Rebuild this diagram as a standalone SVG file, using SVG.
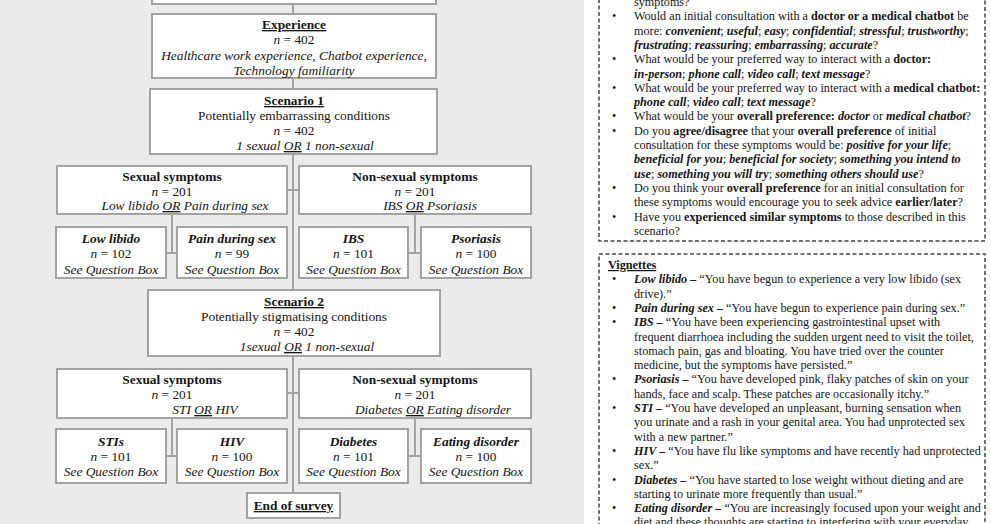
<svg xmlns="http://www.w3.org/2000/svg" width="991" height="524" viewBox="0 0 991 524">
<style>
.bx{fill:#fff;stroke:#a3a3a3;stroke-width:2}
.ln{stroke:#a3a3a3;stroke-width:2;fill:none}
.t{font-family:"Liberation Serif","Times New Roman",serif;font-size:13.4px;fill:#151515;text-anchor:middle}
.r{font-family:"Liberation Serif","Times New Roman",serif;font-size:12.2px;fill:#151515}
.b{font-weight:bold}
.i{font-style:italic}
.bi{font-weight:bold;font-style:italic}
.u{text-decoration:underline}
.dash{fill:none;stroke:#444;stroke-width:1.5;stroke-dasharray:4 2.5}
</style>
<rect x="0" y="0" width="991" height="524" fill="#fff"/>
<rect x="0" y="0" width="584" height="524" fill="#ebebeb"/>

<g id="connectors">
<line class="ln" x1="293" y1="4" x2="293" y2="493"/>
<line class="ln" x1="287" y1="190" x2="299" y2="190"/>
<line class="ln" x1="172" y1="215" x2="172" y2="253"/>
<line class="ln" x1="166" y1="253" x2="177" y2="253"/>
<line class="ln" x1="415" y1="215" x2="415" y2="253"/>
<line class="ln" x1="408" y1="253" x2="421" y2="253"/>
<line class="ln" x1="287" y1="393" x2="299" y2="393"/>
<line class="ln" x1="172" y1="418" x2="172" y2="456"/>
<line class="ln" x1="166" y1="456" x2="177" y2="456"/>
<line class="ln" x1="415" y1="418" x2="415" y2="456"/>
<line class="ln" x1="408" y1="456" x2="421" y2="456"/>
</g>

<g id="top-box"><rect class="bx" x="152" y="-30" width="284" height="34"/></g>

<g id="experience">
<rect class="bx" x="152" y="14" width="284" height="64"/>
<text class="t b u" x="294" y="29">Experience</text>
<text class="t" x="294" y="44"><tspan class="i">n</tspan> = 402</text>
<text class="t i" x="294" y="60">Healthcare work experience, Chatbot experience,</text>
<text class="t i" x="294" y="75">Technology familiarity</text>
</g>

<g id="scenario1">
<rect class="bx" x="150" y="89" width="287" height="65"/>
<text class="t b u" x="294" y="105">Scenario 1</text>
<text class="t" x="294" y="120">Potentially embarrassing conditions</text>
<text class="t" x="294" y="135"><tspan class="i">n</tspan> = 402</text>
<text class="t i" x="305" y="150">1 sexual <tspan class="u">OR</tspan> 1 non-sexual</text>
</g>

<g id="s1-sexual">
<rect class="bx" x="57" y="166" width="230" height="48"/>
<text class="t b" x="172" y="181">Sexual symptoms</text>
<text class="t" x="172" y="196"><tspan class="i">n</tspan> = 201</text>
<text class="t i" x="185" y="210">Low libido <tspan class="u">OR</tspan> Pain during sex</text>
</g>

<g id="s1-nonsexual">
<rect class="bx" x="299" y="166" width="232" height="48"/>
<text class="t b" x="415" y="181">Non-sexual symptoms</text>
<text class="t" x="415" y="196"><tspan class="i">n</tspan> = 201</text>
<text class="t i" x="430" y="210">IBS <tspan class="u">OR</tspan> Psoriasis</text>
</g>

<g id="low-libido">
<rect class="bx" x="56" y="227" width="110" height="51"/>
<text class="t bi" x="111" y="243">Low libido</text>
<text class="t" x="111" y="258"><tspan class="i">n</tspan> = 102</text>
<text class="t i" x="111" y="274">See Question Box</text>
</g>
<g id="pain-during-sex">
<rect class="bx" x="177" y="227" width="110" height="51"/>
<text class="t bi" x="232" y="243">Pain during sex</text>
<text class="t" x="232" y="258"><tspan class="i">n</tspan> = 99</text>
<text class="t i" x="232" y="274">See Question Box</text>
</g>
<g id="ibs">
<rect class="bx" x="299" y="227" width="109" height="51"/>
<text class="t bi" x="353.5" y="243">IBS</text>
<text class="t" x="353.5" y="258"><tspan class="i">n</tspan> = 101</text>
<text class="t i" x="353.5" y="274">See Question Box</text>
</g>
<g id="psoriasis">
<rect class="bx" x="421" y="227" width="110" height="51"/>
<text class="t bi" x="476" y="243">Psoriasis</text>
<text class="t" x="476" y="258"><tspan class="i">n</tspan> = 100</text>
<text class="t i" x="476" y="274">See Question Box</text>
</g>

<g id="scenario2">
<rect class="bx" x="148" y="290" width="292" height="66"/>
<text class="t b u" x="294" y="306">Scenario 2</text>
<text class="t" x="294" y="321">Potentially stigmatising conditions</text>
<text class="t" x="294" y="336"><tspan class="i">n</tspan> = 402</text>
<text class="t i" x="307" y="351">1sexual <tspan class="u">OR</tspan> 1 non-sexual</text>
</g>

<g id="s2-sexual">
<rect class="bx" x="57" y="369" width="230" height="49"/>
<text class="t b" x="172" y="384">Sexual symptoms</text>
<text class="t" x="172" y="399"><tspan class="i">n</tspan> = 201</text>
<text class="t i" x="205" y="414">STI <tspan class="u">OR</tspan> HIV</text>
</g>

<g id="s2-nonsexual">
<rect class="bx" x="299" y="369" width="232" height="49"/>
<text class="t b" x="415" y="384">Non-sexual symptoms</text>
<text class="t" x="415" y="399"><tspan class="i">n</tspan> = 201</text>
<text class="t i" x="433" y="414">Diabetes <tspan class="u">OR</tspan> Eating disorder</text>
</g>

<g id="stis">
<rect class="bx" x="56" y="429" width="110" height="54"/>
<text class="t bi" x="111" y="446">STIs</text>
<text class="t" x="111" y="461"><tspan class="i">n</tspan> = 101</text>
<text class="t i" x="111" y="476">See Question Box</text>
</g>
<g id="hiv">
<rect class="bx" x="177" y="429" width="110" height="54"/>
<text class="t bi" x="232" y="446">HIV</text>
<text class="t" x="232" y="461"><tspan class="i">n</tspan> = 100</text>
<text class="t i" x="232" y="476">See Question Box</text>
</g>
<g id="diabetes">
<rect class="bx" x="299" y="429" width="109" height="54"/>
<text class="t bi" x="353.5" y="446">Diabetes</text>
<text class="t" x="353.5" y="461"><tspan class="i">n</tspan> = 101</text>
<text class="t i" x="353.5" y="476">See Question Box</text>
</g>
<g id="eating-disorder">
<rect class="bx" x="421" y="429" width="110" height="54"/>
<text class="t bi" x="476" y="446">Eating disorder</text>
<text class="t" x="476" y="461"><tspan class="i">n</tspan> = 100</text>
<text class="t i" x="476" y="476">See Question Box</text>
</g>

<g id="end-of-survey">
<rect class="bx" x="247" y="493" width="93" height="25"/>
<text class="t b u" x="293.5" y="510">End of survey</text>
</g>

<g id="question-box">
<rect class="dash" x="599" y="-10" width="386" height="251"/>
<g class="r">
<text x="634" y="6">symptoms?</text>
<text x="612" y="20.3">•</text>
<text x="634" y="20.3">Would an initial consultation with a <tspan class="b">doctor or a medical chatbot</tspan> be</text>
<text x="634" y="34.6">more: <tspan class="bi">convenient</tspan>; <tspan class="bi">useful</tspan>; <tspan class="bi">easy</tspan>; <tspan class="bi">confidential</tspan>; <tspan class="bi">stressful</tspan>; <tspan class="bi">trustworthy</tspan>;</text>
<text x="634" y="48.9"><tspan class="bi">frustrating</tspan>; <tspan class="bi">reassuring</tspan>; <tspan class="bi">embarrassing</tspan>; <tspan class="bi">accurate</tspan>?</text>
<text x="612" y="63.2">•</text>
<text x="634" y="63.2">What would be your preferred way to interact with a <tspan class="b">doctor:</tspan></text>
<text x="634" y="77.5"><tspan class="bi">in-person</tspan>; <tspan class="bi">phone call</tspan>; <tspan class="bi">video call</tspan>; <tspan class="bi">text message</tspan>?</text>
<text x="612" y="91.8">•</text>
<text x="634" y="91.8">What would be your preferred way to interact with a <tspan class="b">medical chatbot:</tspan></text>
<text x="634" y="106.1"><tspan class="bi">phone call</tspan>; <tspan class="bi">video call</tspan>; <tspan class="bi">text message</tspan>?</text>
<text x="612" y="120.4">•</text>
<text x="634" y="120.4">What would be your <tspan class="b">overall preference:</tspan> <tspan class="bi">doctor</tspan> or <tspan class="bi">medical chatbot</tspan>?</text>
<text x="612" y="134.7">•</text>
<text x="634" y="134.7">Do you <tspan class="b">agree/disagree</tspan> that your <tspan class="b">overall preference</tspan> of initial</text>
<text x="634" y="149">consultation for these symptoms would be: <tspan class="bi">positive for your life</tspan>;</text>
<text x="634" y="163.3"><tspan class="bi">beneficial for you</tspan>; <tspan class="bi">beneficial for society</tspan>; <tspan class="bi">something you intend to</tspan></text>
<text x="634" y="177.6"><tspan class="bi">use</tspan>; <tspan class="bi">something you will try</tspan>; <tspan class="bi">something others should use</tspan>?</text>
<text x="612" y="191.9">•</text>
<text x="634" y="191.9">Do you think your <tspan class="b">overall preference</tspan> for an initial consultation for</text>
<text x="634" y="206.2">these symptoms would encourage you to seek advice <tspan class="b">earlier/later</tspan>?</text>
<text x="612" y="220.5">•</text>
<text x="634" y="220.5">Have you <tspan class="b">experienced similar symptoms</tspan> to those described in this</text>
<text x="634" y="234.8">scenario?</text>
</g>
</g>

<g id="vignettes">
<rect class="dash" x="599" y="254" width="386" height="290"/>
<g class="r">
<text class="b u" x="608" y="269">Vignettes</text>
<text x="612" y="283.3">•</text>
<text x="634" y="283.3"><tspan class="bi">Low libido –</tspan> “You have begun to experience a very low libido (sex</text>
<text x="634" y="297.6">drive).”</text>
<text x="612" y="311.9">•</text>
<text x="634" y="311.9"><tspan class="bi">Pain during sex –</tspan> “You have begun to experience pain during sex.”</text>
<text x="612" y="326.2">•</text>
<text x="634" y="326.2"><tspan class="bi">IBS –</tspan> “You have been experiencing gastrointestinal upset with</text>
<text x="634" y="340.5">frequent diarrhoea including the sudden urgent need to visit the toilet,</text>
<text x="634" y="354.8">stomach pain, gas and bloating. You have tried over the counter</text>
<text x="634" y="369.1">medicine, but the symptoms have persisted.”</text>
<text x="612" y="383.4">•</text>
<text x="634" y="383.4"><tspan class="bi">Psoriasis –</tspan> “You have developed pink, flaky patches of skin on your</text>
<text x="634" y="397.7">hands, face and scalp. These patches are occasionally itchy.”</text>
<text x="612" y="412">•</text>
<text x="634" y="412"><tspan class="bi">STI –</tspan> “You have developed an unpleasant, burning sensation when</text>
<text x="634" y="426.3">you urinate and a rash in your genital area. You had unprotected sex</text>
<text x="634" y="440.6">with a new partner.”</text>
<text x="612" y="454.9">•</text>
<text x="634" y="454.9"><tspan class="bi">HIV –</tspan> “You have flu like symptoms and have recently had unprotected</text>
<text x="634" y="469.2">sex.”</text>
<text x="612" y="483.5">•</text>
<text x="634" y="483.5"><tspan class="bi">Diabetes –</tspan> “You have started to lose weight without dieting and are</text>
<text x="634" y="497.8">starting to urinate more frequently than usual.”</text>
<text x="612" y="512.1">•</text>
<text x="634" y="512.1"><tspan class="bi">Eating disorder –</tspan> “You are increasingly focused upon your weight and</text>
<text x="634" y="526.4">diet and these thoughts are starting to interfering with your everyday</text>
</g>
</g>
</svg>
